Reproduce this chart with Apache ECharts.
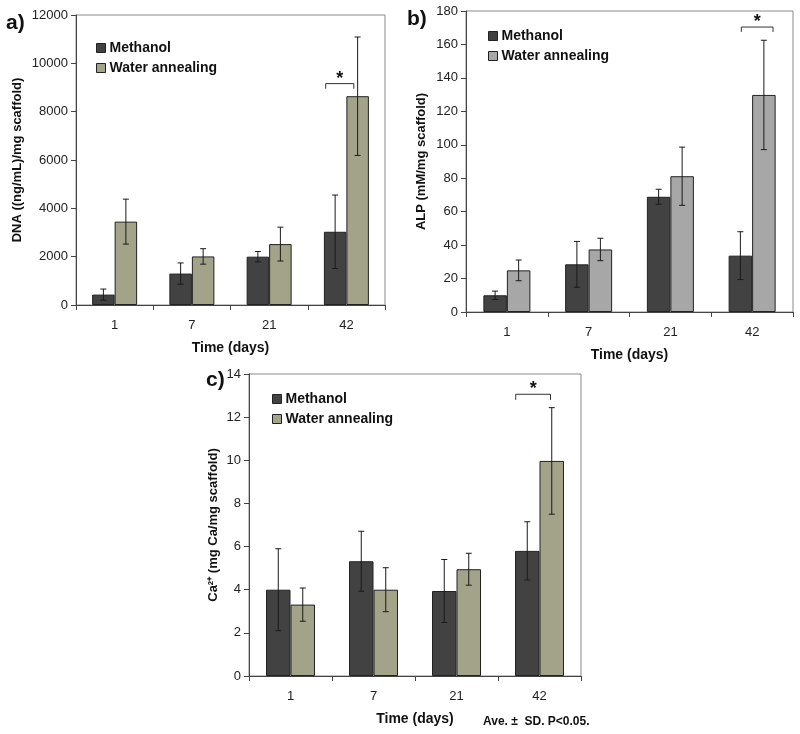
<!DOCTYPE html>
<html><head><meta charset="utf-8">
<script src="https://cdn.jsdelivr.net/npm/echarts@6/dist/echarts.min.js"></script>
<style>html,body{margin:0;padding:0;background:#fff}#c{width:800px;height:734px}</style>
</head><body><div id="c"></div>
<script>
const categories = ['1', '7', '21', '42'];
const seriesNames = ['Methanol', 'Water annealing'];

const dnaMethanol = [430, 1300, 2000, 3030];
const dnaMethanolSD = [230, 440, 215, 1520];
const dnaWater = [3450, 2010, 2520, 8640];
const dnaWaterSD = [930, 320, 700, 2450];

const alpMethanol = [10, 28.5, 68.9, 33.7];
const alpMethanolSD = [2.5, 13.7, 4.5, 14.3];
const alpWater = [24.9, 37.4, 81.2, 129.8];
const alpWaterSD = [6.2, 6.7, 17.4, 32.7];

const caMethanol = [4.0, 5.32, 3.94, 5.8];
const caMethanolSD = [1.9, 1.39, 1.46, 1.35];
const caWater = [3.31, 4.0, 4.95, 9.97];
const caWaterSD = [0.77, 1.02, 0.74, 2.47];

// significance brackets: [category index, bracket level, tick end]
const dnaBracket = [3, 9160, 8950];
const alpBracket = [3, 170.4, 167.5];
const caBracket = [3, 13.06, 12.8];

const dnaTicks = [0, 12000, 2000];
const alpTicks = [0, 180, 20];
const caTicks = [0, 14, 2];

const FONT = '"Liberation Sans", Arial, sans-serif';
const DARK = '#424242';
const OLIVE = '#a3a38a';
const LGRAY = '#a7a7a7';

const panels = [
  {grid:{left:76, top:15, width:309, height:290}, bw:22.5, m:dnaMethanol, msd:dnaMethanolSD, w:dnaWater, wsd:dnaWaterSD,
   wc:OLIVE, ticks:dnaTicks, yname:'DNA ((ng/mL)/mg scaffold)', ygap:52, br:dnaBracket, bl:-0.92, brr:0.33,
   legend:{left:91, top:36}},
  {grid:{left:466, top:11, width:327, height:301}, bw:23.5, m:alpMethanol, msd:alpMethanolSD, w:alpWater, wsd:alpWaterSD,
   wc:LGRAY, ticks:alpTicks, yname:'ALP (mM/mg scaffold)', ygap:38, br:alpBracket, bl:-0.46, brr:0.89,
   legend:{left:483, top:24}},
  {grid:{left:249, top:374, width:332, height:302}, bw:24.5, m:caMethanol, msd:caMethanolSD, w:caWater, wsd:caWaterSD,
   wc:OLIVE, ticks:caTicks, yname:'Ca²⁺ (mg Ca/mg scaffold)', ygap:29, br:caBracket, bl:-0.97, brr:0.45,
   legend:{left:267, top:387}}
];

const grids = [], xAxes = [], yAxes = [], series = [], legends = [];

function errRender(offSign, bw) {
  return function (params, api) {
    const i = api.value(0), v = api.value(1), sd = api.value(2);
    const hi = api.coord([i, v + sd]);
    const lo = api.coord([i, v - sd]);
    const x = hi[0] + offSign * bw / 2;
    const cap = 3;
    const st = {stroke:'#1a1a1a', lineWidth:1};
    return {type:'group', children:[
      {type:'line', shape:{x1:x, y1:hi[1], x2:x, y2:lo[1]}, style:st},
      {type:'line', shape:{x1:x-cap, y1:hi[1], x2:x+cap, y2:hi[1]}, style:st},
      {type:'line', shape:{x1:x-cap, y1:lo[1], x2:x+cap, y2:lo[1]}, style:st}
    ]};
  };
}

function bracketRender(bw, lo, ro) {
  return function (params, api) {
    const i = api.value(0);
    const p = api.coord([i, api.value(1)]);
    const t = api.coord([i, api.value(2)]);
    const x1 = p[0] + lo * bw, x2 = p[0] + ro * bw;
    return {type:'group', children:[
      {type:'polyline', shape:{points:[[x1,t[1]],[x1,p[1]],[x2,p[1]],[x2,t[1]]]}, style:{stroke:'#333', lineWidth:1, fill:null}},
      {type:'text', style:{text:'*', x:(x1+x2)/2, y:p[1]+4, textAlign:'center', textVerticalAlign:'bottom',
        font:'bold 18px ' + FONT, fill:'#111'}}
    ]};
  };
}

panels.forEach((p, k) => {
  grids.push(Object.assign({show:true, borderColor:'#8a8a8a', borderWidth:1, containLabel:false}, p.grid));
  xAxes.push({type:'category', gridIndex:k, data:categories,
    axisLine:{lineStyle:{color:'#444', width:1}},
    axisTick:{show:true, length:5, lineStyle:{color:'#444'}},
    axisLabel:{color:'#222', fontSize:13, fontFamily:FONT, margin:14},
    name:'Time (days)', nameLocation:'middle', nameGap:36,
    nameTextStyle:{fontWeight:'bold', fontSize:14, fontFamily:FONT, color:'#111'}
  });
  yAxes.push({type:'value', gridIndex:k, min:p.ticks[0], max:p.ticks[1], interval:p.ticks[2],
    splitLine:{show:false},
    axisLine:{show:true, lineStyle:{color:'#444', width:1}},
    axisTick:{show:true, length:5, lineStyle:{color:'#444'}},
    axisLabel:{color:'#222', fontSize:13, fontFamily:FONT, margin:8, formatter:(v) => String(v)},
    name:p.yname, nameLocation:'middle', nameGap:p.ygap, nameRotate:90,
    nameTextStyle:{fontWeight:'bold', fontSize:13, fontFamily:FONT, color:'#111'}
  });
  series.push({type:'bar', name:seriesNames[0], xAxisIndex:k, yAxisIndex:k, data:p.m, barWidth:p.bw, barGap:'0%',
    itemStyle:{color:DARK, borderColor:'#222', borderWidth:1}, silent:true});
  series.push({type:'bar', name:seriesNames[1], xAxisIndex:k, yAxisIndex:k, data:p.w, barWidth:p.bw, barGap:'0%',
    itemStyle:{color:p.wc, borderColor:'#222', borderWidth:1}, silent:true});
  series.push({type:'custom', name:'errM'+k, xAxisIndex:k, yAxisIndex:k, z:5, silent:true,
    encode:{x:0, y:1}, renderItem:errRender(-1, p.bw),
    data:p.m.map((v, i) => [i, v, p.msd[i]])});
  series.push({type:'custom', name:'errW'+k, xAxisIndex:k, yAxisIndex:k, z:5, silent:true,
    encode:{x:0, y:1}, renderItem:errRender(1, p.bw),
    data:p.w.map((v, i) => [i, v, p.wsd[i]])});
  series.push({type:'custom', name:'br'+k, xAxisIndex:k, yAxisIndex:k, z:5, silent:true,
    encode:{x:0, y:1}, renderItem:bracketRender(p.bw, p.bl, p.brr),
    data:[p.br]});
  legends.push({orient:'vertical', left:p.legend.left, top:p.legend.top, itemGap:6, itemWidth:9, itemHeight:9,
    icon:'rect', selectedMode:false,
    textStyle:{fontWeight:'bold', fontSize:14, fontFamily:FONT, color:'#111', padding:[0,0,0,-1]},
    data:[{name:seriesNames[0], itemStyle:{color:DARK, borderColor:'#222', borderWidth:1}},
          {name:seriesNames[1], itemStyle:{color:p.wc, borderColor:'#222', borderWidth:1}}]
  });
});

const chart = echarts.init(document.getElementById('c'), null, {renderer:'canvas'});
chart.setOption({
  animation:false,
  backgroundColor:'#fff',
  grid:grids, xAxis:xAxes, yAxis:yAxes, series:series, legend:legends,
  graphic:[
    {type:'text', left:6, top:13, style:{text:'a)', font:'bold 21px ' + FONT, fill:'#111'}},
    {type:'text', left:407, top:9, style:{text:'b)', font:'bold 21px ' + FONT, fill:'#111'}},
    {type:'text', left:206, top:370, style:{text:'c)', font:'bold 21px ' + FONT, fill:'#111'}},
    {type:'text', left:483, top:716, style:{text:'Ave. ±  SD. P<0.05.', font:'bold 12px ' + FONT, fill:'#111'}}
  ]
});
</script></body></html>
